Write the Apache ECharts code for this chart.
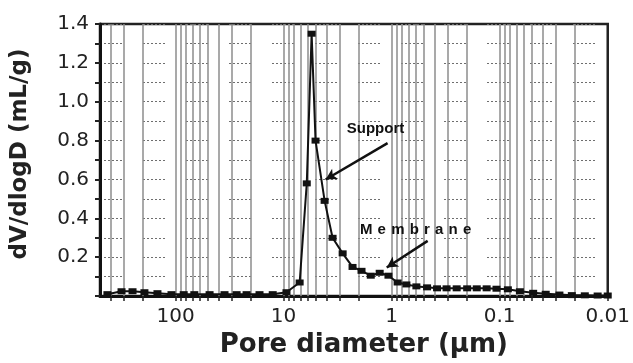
<!DOCTYPE html>
<html>
<head>
<meta charset="utf-8">
<script src="https://cdn.jsdelivr.net/npm/echarts@6/dist/echarts.min.js"></script>
<style>
  html, body { margin: 0; padding: 0; background: #fff; }
  #chart { width: 633px; height: 363px; }
</style>
</head>
<body>
<div id="chart"></div>
<script>
// Pore size distribution (mercury intrusion), dV/dlogD vs pore diameter
const poreDiameter = [427, 316, 250, 194, 147, 109, 84, 67, 48.4, 35.2, 27.2, 22, 16.7, 12.6, 9.4,
  7.1, 6.1, 5.5, 5.06, 4.17, 3.52, 2.84, 2.30, 1.90, 1.56, 1.29, 1.07, 0.88, 0.73, 0.59, 0.47,
  0.38, 0.31, 0.25, 0.20, 0.163, 0.132, 0.107, 0.084, 0.065, 0.049, 0.0375, 0.028, 0.0215,
  0.0163, 0.0124, 0.01];
const dVdlogD = [0.01, 0.025, 0.025, 0.02, 0.015, 0.01, 0.01, 0.01, 0.01, 0.01, 0.01, 0.01, 0.01, 0.01, 0.02,
  0.07, 0.58, 1.35, 0.80, 0.49, 0.30, 0.22, 0.15, 0.13, 0.105, 0.12, 0.105, 0.07, 0.06, 0.05, 0.045,
  0.04, 0.04, 0.04, 0.04, 0.04, 0.04, 0.038, 0.035, 0.025, 0.017, 0.012, 0.008, 0.005,
  0.004, 0.003, 0.003];

// Axis tick labels (log axis, reversed)
const xTickValues = [100, 10, 1, 0.1, 0.01];
const xTickLabels = ['100', '10', '1', '0.1', '0.01'];

// Annotations: label text, label anchor, arrow start, arrow end (data space)
const annotationText = ['Support', 'Membrane'];
const annotationAnchor = [[1.41, 0.858], [0.60, 0.34]];
const arrowFrom = [[1.09, 0.787], [0.464, 0.284]];
const arrowTo = [[4.08, 0.60], [1.11, 0.147]];

const xMin = 0.01, xMax = 500;

// Log-decade grid values: k * 10^n inside the axis range
const gridValues = [];
for (let e = -2; e <= 2; e++) {
  for (let k = 1; k <= 9; k++) {
    const v = +(k * Math.pow(10, e)).toPrecision(3);
    if (v > xMin && v < xMax) gridValues.push(v);
  }
}

const FONT = "'Liberation Sans', Arial, sans-serif";
const WIDE = "'DejaVu Sans', 'Liberation Sans', sans-serif";
const chart = echarts.init(document.getElementById('chart'), null, { renderer: 'canvas' });

// "Membrane" is set with open letter spacing: one rich segment per letter
const spacedRich = { s: { fontFamily: FONT, fontWeight: 'bold', fontSize: 15, color: '#111', padding: [0, 2.6, 0, 2.6] } };
function spaced(text) {
  return text.split('').map(ch => '{s|' + ch + '}').join('');
}

chart.setOption({
  animation: false,
  backgroundColor: '#fff',
  grid: {
    left: 100, right: 23, top: 24, bottom: 63,
    show: true, borderColor: '#222', borderWidth: 2.5, backgroundColor: 'transparent'
  },
  xAxis: {
    type: 'log',
    logBase: 10,
    inverse: true,
    min: xMin,
    max: xMax,
    name: 'Pore diameter (µm)',
    nameLocation: 'middle',
    nameGap: 33,
    nameTextStyle: { fontFamily: WIDE, fontWeight: 'bold', fontSize: 26, color: '#222', verticalAlign: 'top', padding: [0, 0, 0, 20] },
    axisLine: { show: true, onZero: false, lineStyle: { color: '#111', width: 3 } },
    axisTick: { show: true, inside: false, length: 5, lineStyle: { color: '#222', width: 1.5 }, customValues: gridValues.concat(xTickValues) },
    axisLabel: {
      show: true,
      customValues: xTickValues,
      margin: 11,
      fontFamily: WIDE, fontSize: 20, color: '#222',
      formatter: function (v) {
        const i = xTickValues.findIndex(t => Math.abs(Math.log10(t) - Math.log10(v)) < 1e-6);
        return i >= 0 ? xTickLabels[i] : '';
      }
    },
    splitLine: { show: false },
    minorTick: { show: false },
    minorSplitLine: { show: false }
  },
  yAxis: {
    type: 'value',
    min: 0,
    max: 1.4,
    interval: 0.1,
    name: 'dV/dlogD (mL/g)',
    nameLocation: 'middle',
    nameGap: 68,
    nameRotate: 90,
    nameTextStyle: { fontFamily: WIDE, fontWeight: 'bold', fontSize: 23, color: '#222', padding: [0, 0, 0, 12] },
    axisLine: { show: true, lineStyle: { color: '#111', width: 3 } },
    axisTick: { show: true, inside: false, length: 5, lineStyle: { color: '#222', width: 2 } },
    axisLabel: {
      margin: 11,
      fontFamily: WIDE, fontSize: 20, color: '#222',
      formatter: function (v) {
        const n = Math.round(v * 10);
        if (n === 0 || n % 2 !== 0) return '';
        return (n / 10).toFixed(1);
      }
    },
    splitLine: {
      show: true,
      lineStyle: { color: '#6e6e6e', width: 1, type: [2, 2, 2, 2, 2, 2, 2, 2, 2, 2, 2, 21], dashOffset: 0 }
    }
  },
  series: [
    {
      // vertical log-decade grid
      type: 'line',
      data: [],
      z: 1,
      silent: true,
      markLine: {
        z: 1,
        silent: true,
        symbol: ['none', 'none'],
        label: { show: false },
        lineStyle: { color: '#8c8c8c', width: 1.5, type: 'solid' },
        data: gridValues.map(v => ({ xAxis: v }))
      }
    },
    {
      name: 'dV/dlogD',
      type: 'line',
      z: 3,
      data: poreDiameter.map((d, i) => [d, dVdlogD[i]]),
      symbol: 'rect',
      symbolSize: [8, 6],
      itemStyle: { color: '#111' },
      lineStyle: { color: '#111', width: 2 },
      markLine: {
        z: 4,
        silent: true,
        symbol: ['none', 'arrow'],
        symbolSize: [9, 11],
        label: { show: false },
        lineStyle: { color: '#111', width: 2.5, type: 'solid' },
        data: arrowFrom.map((p, i) => [{ coord: p }, { coord: arrowTo[i] }])
      },
      markPoint: {
        z: 4,
        silent: true,
        symbol: 'circle',
        symbolSize: 0,
        label: {
          show: true,
          position: 'inside',
          fontFamily: FONT, fontWeight: 'bold', fontSize: 15, color: '#111',
          rich: spacedRich,
          formatter: p => (p.name === 'Membrane' ? spaced(p.name) : p.name)
        },
        data: annotationText.map((t, i) => ({ name: t, coord: annotationAnchor[i] }))
      }
    }
  ]
});
</script>
</body>
</html>
